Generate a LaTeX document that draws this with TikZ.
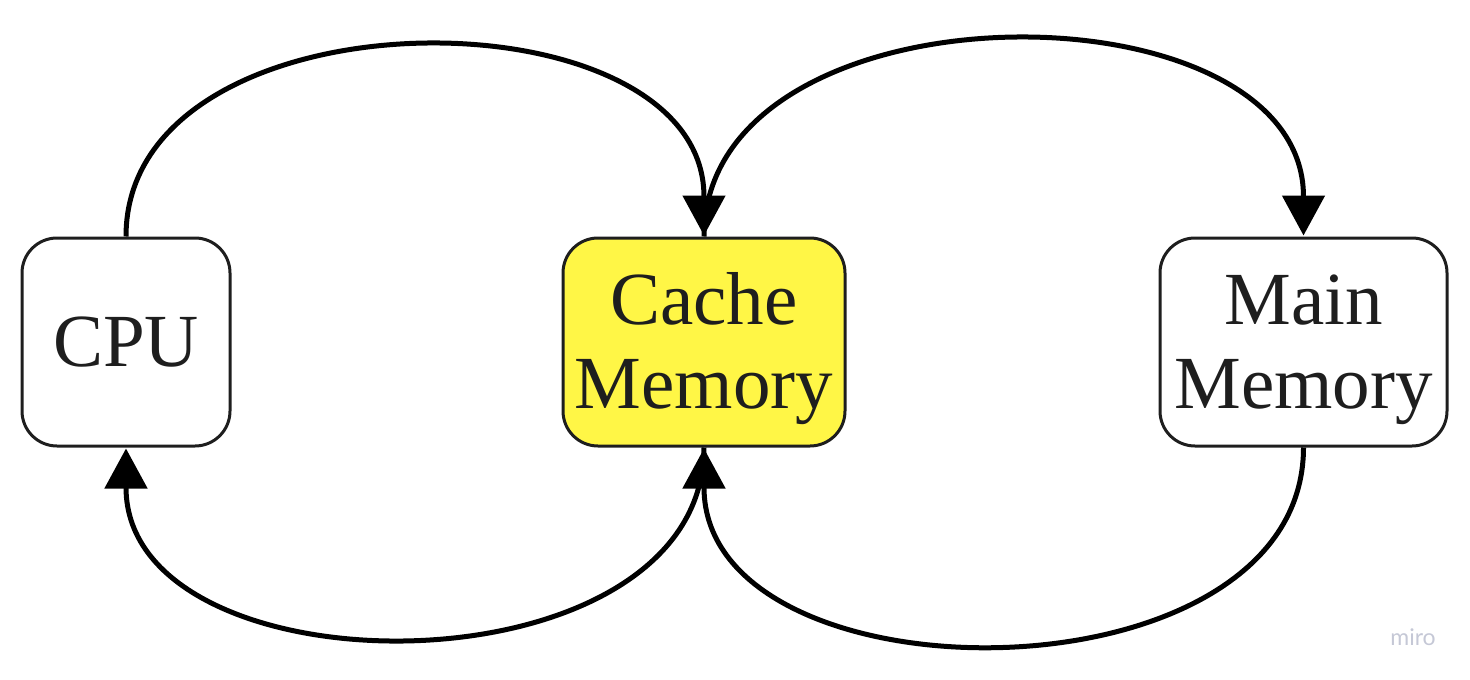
\documentclass[tikz,border=0pt]{standalone}
\usepackage{fontspec}
\setmainfont{Liberation Serif}
\newfontfamily\mirofont{Lato}
\usetikzlibrary{arrows.meta}
\definecolor{boxline}{HTML}{1E1E1E}
\definecolor{cacheyellow}{HTML}{FFF646}
\definecolor{mirogrey}{HTML}{C5C8D6}
\newcommand{\twolines}[2]{\raisebox{0pt}[50pt][86pt]{\begin{tabular}[t]{@{}c@{}}#1\\#2\end{tabular}}}
\tikzset{
  membox/.style={draw=boxline, line width=3pt, rounded corners=35pt, fill=white,
    text=boxline, inner sep=0pt,
    font=\fontsize{75}{84}\selectfont},
  flow/.style={line width=5pt, -{Triangle[length=40pt,width=42pt]}, shorten >=1pt},
}
\begin{document}
\begin{tikzpicture}[x=1pt,y=-1pt]
\useasboundingbox (0,0) rectangle (1470,680);
\node[membox, minimum width=208pt, minimum height=208pt] (cpu) at (126,342) {CPU};
\node[membox, fill=cacheyellow, minimum width=282pt, minimum height=208pt] (cache) at (704,342) {\twolines{Cache}{Memory}};
\node[membox, minimum width=287pt, minimum height=208pt] (main) at (1303.5,342) {\twolines{Main}{Memory}};
\draw[flow] (cpu.north) .. controls +(0,-251) and +(0,-251) .. (cache.north);
\draw[flow] (cache.north) .. controls +(0,-259) and +(0,-259) .. (main.north);
\draw[flow] (main.south) .. controls +(0,260) and +(0,260) .. (cache.south);
\draw[flow] (cache.south) .. controls +(0,251) and +(0,251) .. (cpu.south);
\node[text=mirogrey, font=\mirofont\fontsize{23}{23}\selectfont, anchor=base] (miro) at (1413,645) {miro};
\end{tikzpicture}
\end{document}
